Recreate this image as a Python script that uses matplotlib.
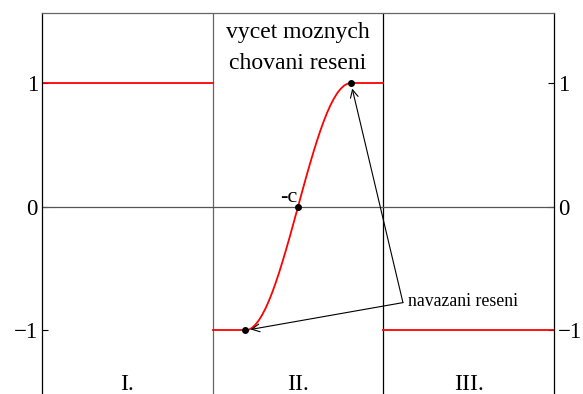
import numpy as np
import matplotlib.pyplot as plt

plt.rcParams['font.family'] = ['Liberation Serif', 'DejaVu Serif']

# oblasti I, II, III a jejich hranice
region_names = ['I.', 'II.', 'III.']
region_edges = [0, 1, 2, 3]

# konstantni useky reseni (x od, x do, hodnota)
flat_segments = [(0.0, 1.0, 1.0), (1.0, 1.19, -1.0), (1.81, 2.0, 1.0), (2.0, 3.0, -1.0)]

# prechodova cast reseni v oblasti II
curve_x = [1.19, 1.21, 1.23, 1.25, 1.27, 1.29, 1.31, 1.33, 1.35, 1.37, 1.39,
           1.41, 1.43, 1.45, 1.47, 1.49, 1.50, 1.51, 1.53, 1.55, 1.57, 1.59,
           1.61, 1.63, 1.65, 1.67, 1.69, 1.71, 1.73, 1.75, 1.77, 1.79, 1.81]
curve_y = [-1.000, -0.995, -0.980, -0.954, -0.919, -0.874, -0.821, -0.759,
           -0.689, -0.612, -0.529, -0.440, -0.347, -0.251, -0.151, -0.051,
           0.000, 0.051, 0.151, 0.251, 0.347, 0.440, 0.529, 0.612, 0.689,
           0.759, 0.821, 0.874, 0.919, 0.954, 0.980, 0.995, 1.000]

# body napojeni a bod -c
join_pts = [(1.19, -1.0), (1.81, 1.0)]
c_point = (1.50, 0.0)

yticks = [-1, 0, 1]
ytick_labels = ['\u22121', '0', '1']

fig = plt.figure(figsize=(5.83, 3.94), dpi=100)
ax = fig.add_axes([42 / 583, 0, 512 / 583, 381 / 394])
ax.set_xlim(region_edges[0], region_edges[-1])
ax.set_ylim(-1.514, 1.567)

for s in ['left', 'right', 'top']:
    ax.spines[s].set_linewidth(0.9)
ax.spines['top'].set_color('#666666')
ax.spines['bottom'].set_visible(False)

ax.set_xticks([])
ax.set_yticks(yticks)
ax.set_yticklabels(ytick_labels, fontsize=16.5)
ax.tick_params(axis='y', direction='in', length=4, width=0.8, pad=3,
               left=True, right=True, labelleft=True, labelright=True)

# hranice oblasti a osa y = 0
ax.axvline(region_edges[1], color='#666666', lw=0.9)
ax.axvline(region_edges[2], color='black', lw=0.9)
ax.axhline(0, color='#555555', lw=0.9)

for x0, x1, v in flat_segments:
    ax.plot([x0, x1], [v, v], color='red', lw=1.3)
ax.plot(curve_x, curve_y, color='red', lw=1.3)

for px, py in join_pts + [c_point]:
    ax.plot(px, py, 'o', color='black', ms=4, zorder=5)

ax.text(c_point[0] - 0.005, c_point[1] + 0.035, '-c', fontsize=16,
        ha='right', va='baseline')

ax.text(1.5, 1.285, 'vycet moznych\nchovani reseni', fontsize=17,
        ha='center', va='center', linespacing=1.65)

for i, name in enumerate(region_names):
    ax.text(region_edges[i] + 0.5, -1.435, name, fontsize=17,
            ha='center', va='center')

# sipky k bodum napojeni
src = (2.115, -0.775)
ax.text(src[0] + 0.03, src[1] + 0.01, 'navazani reseni', fontsize=12.8,
        ha='left', va='center')
for pt in join_pts:
    ax.annotate('', xy=pt, xytext=src,
                arrowprops=dict(arrowstyle='->', color='black', lw=0.8,
                                shrinkA=0, shrinkB=4, mutation_scale=14))

fig.savefig('out.png', dpi=100)
